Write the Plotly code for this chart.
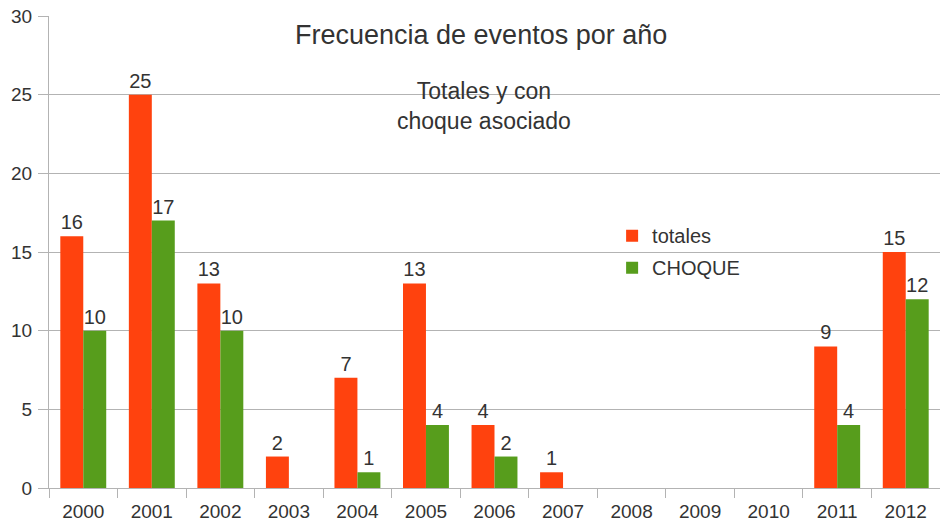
import plotly.graph_objects as go

years = ['2000', '2001', '2002', '2003', '2004', '2005', '2006',
         '2007', '2008', '2009', '2010', '2011', '2012']
totales = [16, 25, 13, 2, 7, 13, 4, 1, None, None, None, 9, 15]
choque = [10, 17, 10, None, 1, 4, 2, None, None, None, None, 4, 12]

font_family = 'Liberation Sans, Arial, sans-serif'
text_color = '#333333'
grid_color = '#b3b3b3'

fig = go.Figure()

fig.add_trace(
    go.Bar(
        x=years,
        y=totales,
        name='totales',
        marker=dict(color='#ff420e', line=dict(width=0)),
        text=totales,
        textposition='outside',
        textfont=dict(size=20, color=text_color),
        cliponaxis=False,
        legendgroup='a',
    )
)

fig.add_trace(
    go.Bar(
        x=years,
        y=choque,
        name='CHOQUE',
        marker=dict(color='#579d1c', line=dict(width=0)),
        text=choque,
        textposition='outside',
        textfont=dict(size=20, color=text_color),
        cliponaxis=False,
        legendgroup='b',
    )
)

fig.update_layout(
    width=940,
    height=529,
    margin={"r": 0, "t": 16, "l": 49, "b": 41},
    paper_bgcolor='white',
    plot_bgcolor='white',
    font=dict(family=font_family, size=19, color=text_color),
    barmode='group',
    bargap=0.33,
    bargroupgap=0,
    showlegend=True,
    legend=dict(
        x=0.632,
        y=0.576,
        xanchor='left',
        yanchor='top',
        bgcolor='rgba(0,0,0,0)',
        font=dict(size=20, color=text_color),
        traceorder='grouped',
        tracegroupgap=3,
    ),
    xaxis=dict(
        automargin=False,
        showline=True,
        linecolor=grid_color,
        ticks='outside',
        tickson='boundaries',
        ticklen=9,
        tickcolor=grid_color,
        showgrid=False,
        ticklabelstandoff=6,
        tickfont=dict(size=19, color=text_color),
    ),
    yaxis=dict(
        automargin=False,
        range=[0, 30],
        dtick=5,
        showline=True,
        linecolor=grid_color,
        ticks='outside',
        ticklen=10,
        tickcolor=grid_color,
        gridcolor=grid_color,
        zeroline=False,
        ticklabelstandoff=2,
        tickfont=dict(size=19, color=text_color),
    ),
    annotations=[
        dict(
            text='Frecuencia de eventos por año',
            x=0.485, y=0.96, xref='paper', yref='paper',
            xanchor='center', yanchor='middle',
            showarrow=False,
            font=dict(size=27, color=text_color),
        ),
        dict(
            text='Totales y con<br>choque asociado',
            x=0.488, y=0.81, xref='paper', yref='paper',
            xanchor='center', yanchor='middle',
            showarrow=False,
            font=dict(size=23, color=text_color),
        ),
    ],
)

# drop the default page margin so the figure sits at the window corner
fig.write_html(
    "out.html",
    config={'displayModeBar': False},
    post_script="document.body.style.margin='0px';",
)
